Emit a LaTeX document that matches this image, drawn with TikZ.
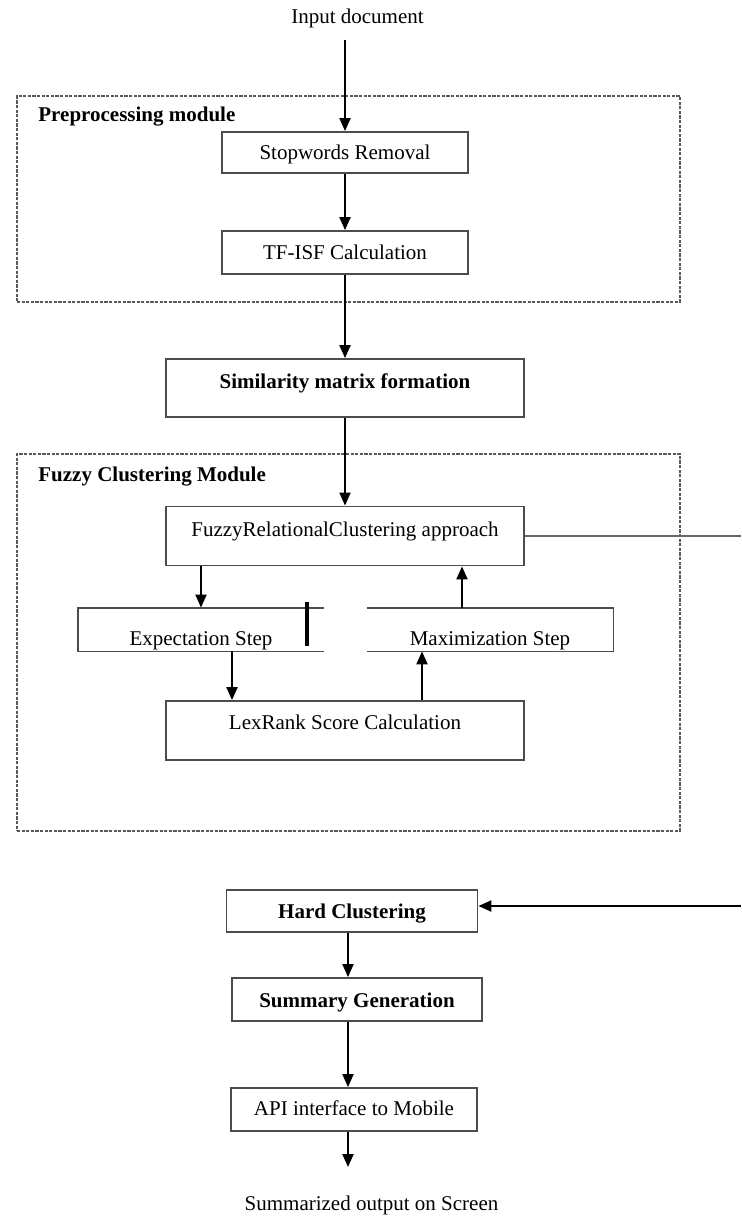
\documentclass[tikz,border=0pt]{standalone}
\usepackage{fontspec}
\setmainfont{Liberation Serif}
\usetikzlibrary{arrows.meta}

\begin{document}
\begin{tikzpicture}[x=0.5pt,y=-0.5pt,
		every node/.append style={font=\fontsize{10.5}{12.6}\selectfont,inner sep=0pt},
		stage/.style args={#1/#2/#3}{draw=black!70,line width=0.9pt,minimum width=#1,text height=#2,text depth=#3},
		open/.style={inner sep=0pt,minimum width=123pt,text height=18.9pt,text depth=2.6pt},
		module/.style={draw=black!65,line width=0.6pt,dash pattern=on 1.6pt off 0.7pt,minimum width=331.5pt},
		arr/.style={draw=black,line width=1pt,-{Triangle[length=6.5pt,width=5.5pt]}}
	]
	\useasboundingbox (0,0) rectangle (741,1216);

	% module frames
	\node[module,minimum height=103pt] (pre) at (348.5,199) {};
	\node[module,minimum height=188.5pt] (fuzzy) at (348.5,642.5) {};
	\node[anchor=west] (pretitle) at (38,117) {\textbf{Preprocessing module}};
	\node[anchor=west] (fuzzytitle) at (38,477) {\textbf{Fuzzy Clustering Module}};

	\node[] (input) at (357.5,18) {Input document};
	\node[stage=123pt/13.9pt/6.6pt] (stop) at (345,152.5) {Stopwords Removal};
	\node[stage=123pt/14.4pt/7.1pt] (tfisf) at (345,252.5) {TF-ISF Calculation};
	\node[stage=179pt/14.9pt/14.1pt] (sim) at (345,388) {\textbf{Similarity matrix formation}};
	\node[stage=179pt/14.9pt/14.6pt] (frc) at (345,536) {FuzzyRelationalClustering approach};
	\node[open] (exp) at (201,629.5) {Expectation Step};
	\node[open] (max) at (490,629.5) {Maximization Step};
	\node[stage=179pt/14.4pt/15.1pt] (lex) at (345,730.5) {LexRank Score Calculation};
	\node[stage=125.5pt/14.4pt/6.6pt] (hard) at (352,911) {\textbf{Hard Clustering}};
	\node[stage=125pt/14.9pt/6.6pt] (summ) at (357,999.5) {\textbf{Summary Generation}};
	\node[stage=123pt/13.9pt/7.6pt] (api) at (354,1109.5) {API interface to Mobile};
	\node[] (screen) at (371.5,1205) {Summarized output on Screen};

	\coordinate (outA) at (741,536);
	\coordinate (outB) at (741,906);
	\coordinate (apiout) at (348,1167);

	% open outlines of the two steps
	\draw[draw=black!70,line width=0.9pt] (exp.north east) -- (exp.north west) -- (exp.south west) -- (exp.south east);
	\draw[draw=black!70,line width=0.9pt] (max.north west) -- (max.north east) -- (max.south east) -- (max.south west);
	\draw[line width=2.2pt] (307,602) -- (307,646);

	\draw[arr] (stop.north |- 0,40) -- (stop.north);
	\draw[arr] (stop) -- (tfisf);
	\draw[arr] (tfisf) -- (sim);
	\draw[arr] (sim) -- (frc);
	\draw[arr] (exp.north |- frc.south) -- (exp.north);
	\draw[arr] ([xshift=-14pt]max.north) -- ([xshift=-14pt]max.north |- frc.south);
	\draw[arr] ([xshift=15.5pt]exp.south) -- ([xshift=15.5pt]exp.south |- lex.north);
	\draw[arr] ([xshift=-34pt]max.south |- lex.north) -- ([xshift=-34pt]max.south);
	\draw[draw=black!60,line width=1pt] (frc.east) -- (outA);
	\draw[arr] (outB) -- (outB -| hard.east);
	\draw[arr] (hard.south -| apiout) -- (summ.north -| apiout);
	\draw[arr] (summ.south -| apiout) -- (api.north -| apiout);
	\draw[arr] (api.south -| apiout) -- (apiout);
\end{tikzpicture}
\end{document}
